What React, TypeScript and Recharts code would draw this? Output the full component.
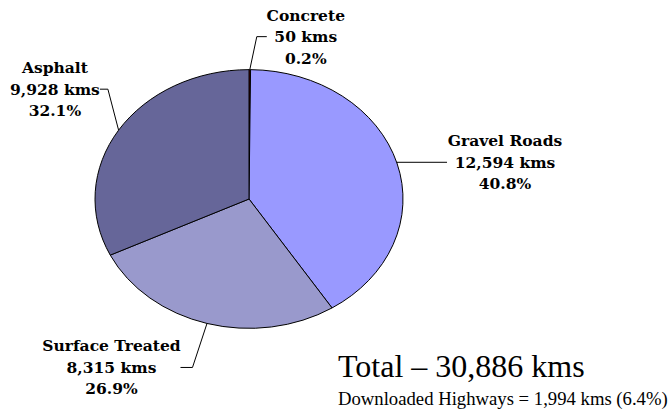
import { Pie, PieChart, Cell } from "recharts";

const categories = ["Concrete", "Gravel Roads", "Surface Treated", "Asphalt"];
const kms = [50, 12594, 8315, 9928];
const colors = ["#800000", "#9999FF", "#9999CC", "#666699"];
const totalText = "Total \u2013 30,886 kms";
const noteText = "Downloaded Highways = 1,994 kms (6.4%)";

const data = categories.map((name, i) => ({ name, value: kms[i] }));

const RAD = Math.PI / 180;
const SQUASH = 0.84;
const FONT = "Liberation Serif, Times New Roman, serif";
// the svg labels only get a bold serif from DejaVu here
const LABEL_FONT = "DejaVu Serif";

// leader elbow / end and text centre, relative to the slice's edge point
const labelLayout = [
  { ex: 7, ey: -33, endX: 17, tx: 56 },
  { ex: 0, ey: -1, endX: 50, tx: 108 },
  { ex: -14.5, ey: 44, endX: -26.5, tx: -95.5 },
  { ex: -10.7, ey: -41, endX: -18.7, tx: -63.7 },
];

function edgePoint(cx: number, cy: number, r: number, angle: number) {
  return {
    x: cx + r * Math.cos(-angle * RAD),
    y: cy + r * SQUASH * Math.sin(-angle * RAD),
  };
}

function EllipseSector(props: any) {
  const { cx, cy, outerRadius, startAngle, endAngle, fill } = props;
  const s = edgePoint(cx, cy, outerRadius, startAngle);
  const e = edgePoint(cx, cy, outerRadius, endAngle);
  const large = Math.abs(startAngle - endAngle) > 180 ? 1 : 0;
  const sweep = endAngle < startAngle ? 1 : 0;
  const d = `M${cx},${cy} L${s.x},${s.y} A${outerRadius},${outerRadius * SQUASH} 0 ${large} ${sweep} ${e.x},${e.y} Z`;
  return <path d={d} fill={fill} stroke="#000" strokeWidth={1} />;
}

function renderLabel(props: any) {
  const { cx, cy, outerRadius, midAngle, index, name, value, percent } = props;
  const lay = labelLayout[index];
  const a = edgePoint(cx, cy, outerRadius, midAngle);
  const bx = a.x + lay.ex;
  const by = a.y + lay.ey;
  const endX = a.x + lay.endX;
  const tx = a.x + lay.tx;
  return (
    <g>
      <polyline
        points={`${a.x},${a.y} ${bx},${by} ${endX},${by}`}
        fill="none"
        stroke="#000"
        strokeWidth={1}
      />
      <text
        x={tx}
        y={by - 16}
        textAnchor="middle"
        fill="#000"
        fontFamily={LABEL_FONT}
        fontWeight="bold"
        fontSize={15.5}
      >
        <tspan x={tx} dy={0}>{name}</tspan>
        <tspan x={tx} dy={21.5}>{value.toLocaleString("en-US")} kms</tspan>
        <tspan x={tx} dy={21.5}>{(percent * 100).toFixed(1)}%</tspan>
      </text>
    </g>
  );
}

export default function App() {
  return (
    <div style={{ position: "absolute", left: 0, top: 0, width: 668, height: 410, background: "#fff" }}>
      <PieChart width={668} height={410} margin={{ top: 0, right: 0, bottom: 0, left: 0 }}>
        <Pie
          data={data}
          dataKey="value"
          nameKey="name"
          cx={249}
          cy={199}
          outerRadius={154}
          startAngle={90}
          endAngle={-270}
          shape={EllipseSector}
          label={renderLabel}
          labelLine={false}
          stroke="#000"
          isAnimationActive={false}
        >
          {data.map((d, i) => (
            <Cell key={d.name} fill={colors[i]} />
          ))}
        </Pie>
      </PieChart>
      <div
        style={{
          position: "absolute",
          left: 338,
          top: 349,
          fontFamily: FONT,
          fontSize: 32,
          lineHeight: "34px",
          whiteSpace: "nowrap",
        }}
      >
        {totalText}
      </div>
      <div
        style={{
          position: "absolute",
          left: 338,
          top: 389,
          fontFamily: FONT,
          fontSize: 18.7,
          lineHeight: "20px",
          whiteSpace: "nowrap",
        }}
      >
        {noteText}
      </div>
    </div>
  );
}
